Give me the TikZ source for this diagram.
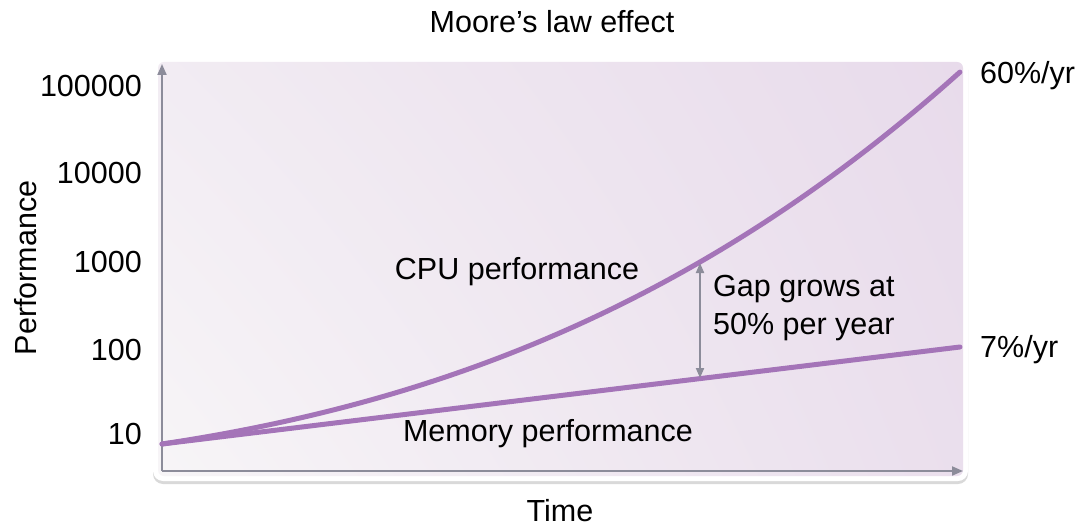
\documentclass[tikz,border=0pt]{standalone}
\usepackage{fontspec}
\setmainfont{Liberation Sans}
\usetikzlibrary{arrows.meta,shadows,shadings}
\definecolor{curve}{HTML}{A474B8}
\definecolor{axisgray}{HTML}{8C8C9A}
\definecolor{bgA}{HTML}{F7F5F7}
\definecolor{bgB}{HTML}{E8DBEB}
\tikzset{
  lbl/.style={font=\fontsize{30.5}{36}\selectfont, inner sep=0pt},
  tick/.style={lbl, anchor=east},
  perf/.style={line width=5pt, curve, line cap=round},
  axisline/.style={line width=2pt, axisgray, -{Triangle[length=11pt,width=9pt]}},
  gaparrow/.style={line width=2pt, axisgray, {Triangle[length=10pt,width=8pt]}-{Triangle[length=10pt,width=8pt]}}
}
\begin{document}
\begin{tikzpicture}[x=1pt,y=-1pt]
\useasboundingbox (0,0) rectangle (1083,529);
% panel
\fill[white, drop shadow={shadow xshift=0pt, shadow yshift=-3pt, opacity=0.3}, rounded corners=10pt] (153,57) rectangle (968,481);
\shade[rounded corners=6pt, lower left=bgA, upper right=bgB, lower right=bgB!85!bgA, upper left=bgA!65!bgB] (158,62) rectangle (963,476);
% axes
\coordinate (o) at (162,471);
\coordinate (ytop) at (162,64);
\coordinate (xend) at (963,471);
\draw[axisline] (o) -- (ytop);
\draw[axisline] (o) -- (xend);
% title and axis labels
\node[lbl] (title) at (552,22) {Moore’s law effect};
\node[lbl] (xlabel) at (560,511) {Time};
\node[lbl, rotate=90] (ylabel) at (26,268) {Performance};
% ticks
\node[tick] (t5) at (142,86) {100000};
\node[tick] (t4) at (142,173) {10000};
\node[tick] (t3) at (142,262) {1000};
\node[tick] (t2) at (142,350) {100};
\node[tick] (t1) at (142,434) {10};
% curves
\coordinate (start) at (162,444);
\coordinate (memend) at (960,347);
\draw[perf] (start) -- (memend);
\draw[perf] plot[domain=0:7.98, samples=120, smooth] ({162+100*\x},{444-15*\x-2.543*\x*\x-0.1778*\x*\x*\x});
\coordinate (cpuend) at (960,72);
% gap arrow
\coordinate (gtop) at (700,263);
\coordinate (gbot) at (700,378);
\draw[gaparrow] (gtop) -- (gbot);
% labels
\node[lbl] (cpu) at (517,272) {CPU performance};
\node[lbl] (mem) at (548,434) {Memory performance};
\node[lbl, anchor=west, align=left] (gap) at (713,308) {Gap grows at\\[2pt]50\% per year};
\node[lbl, anchor=west] (r60) at (980,76) {60\%/yr};
\node[lbl, anchor=west] (r7) at (980,350) {7\%/yr};
\end{tikzpicture}
\end{document}
